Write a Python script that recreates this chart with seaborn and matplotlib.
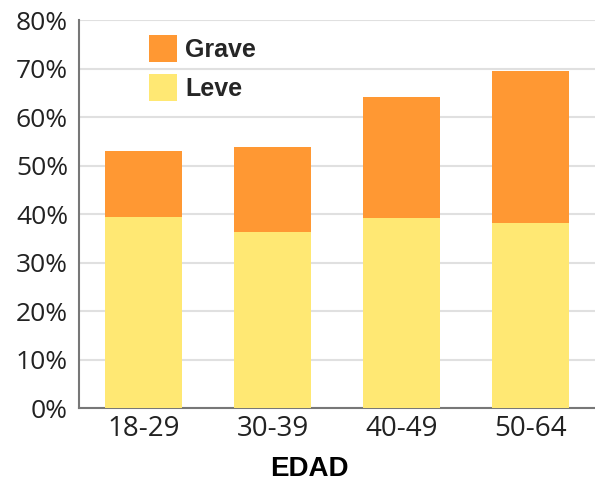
import numpy as np
import seaborn as sns
import matplotlib.pyplot as plt
from matplotlib.patches import Patch

# Data (percent)
edad = ["18-29", "30-39", "40-49", "50-64"]
leve = [39.3, 36.2, 39.2, 38.2]
grave = [13.7, 17.6, 24.9, 31.2]

ORANGE = "#FF9833"
YELLOW = "#FFE873"

sns.set_theme(style="white")
plt.rcParams['font.family'] = ['Open Sans', 'DejaVu Sans']

fig = plt.figure(figsize=(5.95, 4.82), dpi=100)
ax = fig.add_axes([0.133, 0.1535, 0.867, 0.805])

total = np.array(leve) + np.array(grave)
sns.barplot(x=edad, y=total, color=ORANGE, width=0.6, saturation=1,
            edgecolor="none", ax=ax, zorder=2)
sns.barplot(x=edad, y=leve, color=YELLOW, width=0.6, saturation=1,
            edgecolor="none", ax=ax, zorder=3)

ax.set_ylim(0, 80)
ax.set_xlim(-0.5, 3.5)
ax.set_yticks(range(0, 81, 10))
ax.set_yticklabels([f"{v}%" for v in range(0, 81, 10)])
ax.yaxis.grid(True, color="#e0e0e0", linewidth=1.5, zorder=0)
ax.set_axisbelow(True)

for side in ["top", "right"]:
    ax.spines[side].set_visible(False)
for side in ["left", "bottom"]:
    ax.spines[side].set_color("#777777")
    ax.spines[side].set_linewidth(1.5)

ax.tick_params(axis="y", length=0, pad=8, labelsize=19, labelcolor="#222222")
ax.tick_params(axis="x", length=0, pad=5, labelsize=20, labelcolor="#222222")

ax.set_ylabel("")
ax.set_xlabel("EDAD", fontsize=20, fontweight="bold", family="Liberation Sans",
              color="black")
ax.xaxis.set_label_coords(0.446, -0.124)

handles = [Patch(facecolor=ORANGE, edgecolor="none", label="Grave"),
           Patch(facecolor=YELLOW, edgecolor="none", label="Leve")]
fig.legend(handles=handles, loc="upper left", bbox_to_anchor=(0.25, 0.927),
           frameon=False, borderpad=0, borderaxespad=0,
           handlelength=1.12, handleheight=1.3, handletextpad=0.35,
           labelspacing=0.45,
           prop={"family": "Liberation Sans", "weight": "bold", "size": 18})

fig.savefig("out.png", dpi=100)
